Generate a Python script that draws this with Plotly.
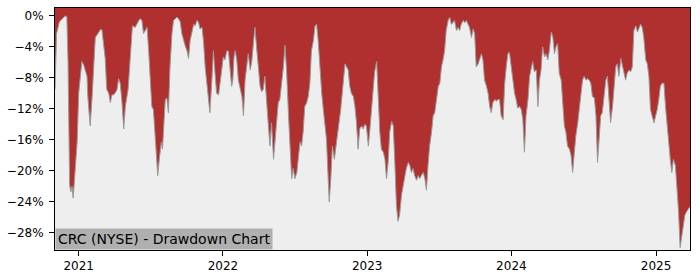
import plotly.graph_objects as go

dates = [
    "2020-11-02", "2020-11-06", "2020-11-13", "2020-11-18", "2020-11-24", "2020-11-30", "2020-12-02",
    "2020-12-05", "2020-12-07", "2020-12-09", "2020-12-12", "2020-12-15", "2020-12-18", "2020-12-20",
    "2020-12-23", "2020-12-28", "2021-01-01", "2021-01-05", "2021-01-09", "2021-01-14", "2021-01-18",
    "2021-01-22", "2021-01-24", "2021-01-28", "2021-01-30", "2021-02-04", "2021-02-08", "2021-02-12",
    "2021-02-16", "2021-02-21", "2021-02-26", "2021-03-01", "2021-03-05", "2021-03-09", "2021-03-13",
    "2021-03-18", "2021-03-22", "2021-03-26", "2021-03-30", "2021-04-03", "2021-04-08", "2021-04-12",
    "2021-04-16", "2021-04-20", "2021-04-25", "2021-04-29", "2021-05-06", "2021-05-09", "2021-05-14",
    "2021-05-17", "2021-05-24", "2021-05-28", "2021-06-02", "2021-06-06", "2021-06-10", "2021-06-14",
    "2021-06-18", "2021-06-23", "2021-06-27", "2021-07-01", "2021-07-05", "2021-07-09", "2021-07-14",
    "2021-07-18", "2021-07-20", "2021-07-24", "2021-07-29", "2021-08-01", "2021-08-05", "2021-08-08",
    "2021-08-12", "2021-08-16", "2021-08-20", "2021-08-25", "2021-08-29", "2021-09-06", "2021-09-11",
    "2021-09-15", "2021-09-19", "2021-09-23", "2021-09-27", "2021-10-02", "2021-10-06", "2021-10-10",
    "2021-10-14", "2021-10-19", "2021-10-23", "2021-10-27", "2021-10-31", "2021-11-04", "2021-11-09",
    "2021-11-13", "2021-11-17", "2021-11-21", "2021-11-25", "2021-11-29", "2021-12-04", "2021-12-08",
    "2021-12-12", "2021-12-16", "2021-12-21", "2021-12-25", "2021-12-29", "2022-01-02", "2022-01-06",
    "2022-01-11", "2022-01-15", "2022-01-19", "2022-01-23", "2022-01-26", "2022-01-29", "2022-02-01",
    "2022-02-05", "2022-02-09", "2022-02-13", "2022-02-18", "2022-02-22", "2022-02-26", "2022-03-02",
    "2022-03-06", "2022-03-11", "2022-03-15", "2022-03-19", "2022-03-23", "2022-03-27", "2022-04-01",
    "2022-04-05", "2022-04-09", "2022-04-13", "2022-04-17", "2022-04-22", "2022-04-26", "2022-04-30",
    "2022-05-04", "2022-05-09", "2022-05-13", "2022-05-17", "2022-05-21", "2022-05-25", "2022-05-30",
    "2022-06-03", "2022-06-07", "2022-06-11", "2022-06-16", "2022-06-20", "2022-06-24", "2022-06-28",
    "2022-07-02", "2022-07-07", "2022-07-11", "2022-07-15", "2022-07-19", "2022-07-23", "2022-07-27",
    "2022-08-01", "2022-08-05", "2022-08-09", "2022-08-13", "2022-08-18", "2022-08-22", "2022-08-26",
    "2022-08-30", "2022-09-03", "2022-09-08", "2022-09-12", "2022-09-16", "2022-09-20", "2022-09-25",
    "2022-09-27", "2022-10-01", "2022-10-05", "2022-10-10", "2022-10-14", "2022-10-18", "2022-10-22",
    "2022-10-26", "2022-11-02", "2022-11-06", "2022-11-10", "2022-11-14", "2022-11-18", "2022-11-22",
    "2022-11-27", "2022-12-01", "2022-12-05", "2022-12-09", "2022-12-13", "2022-12-18", "2022-12-22",
    "2022-12-26", "2022-12-30", "2023-01-04", "2023-01-08", "2023-01-12", "2023-01-16", "2023-01-20",
    "2023-01-25", "2023-01-29", "2023-02-02", "2023-02-06", "2023-02-11", "2023-02-15", "2023-02-19",
    "2023-02-23", "2023-02-27", "2023-03-04", "2023-03-08", "2023-03-12", "2023-03-16", "2023-03-20",
    "2023-03-24", "2023-03-29", "2023-04-02", "2023-04-06", "2023-04-10", "2023-04-15", "2023-04-19",
    "2023-04-23", "2023-04-27", "2023-05-01", "2023-05-06", "2023-05-10", "2023-05-14", "2023-05-18",
    "2023-05-23", "2023-05-27", "2023-05-31", "2023-06-04", "2023-06-08", "2023-06-13", "2023-06-17",
    "2023-06-21", "2023-06-25", "2023-06-30", "2023-07-04", "2023-07-08", "2023-07-12", "2023-07-16",
    "2023-07-20", "2023-07-25", "2023-07-29", "2023-08-02", "2023-08-06", "2023-08-10", "2023-08-15",
    "2023-08-19", "2023-08-23", "2023-08-27", "2023-09-01", "2023-09-05", "2023-09-09", "2023-09-13",
    "2023-09-17", "2023-09-22", "2023-09-26", "2023-09-30", "2023-10-04", "2023-10-09", "2023-10-13",
    "2023-10-17", "2023-10-21", "2023-10-25", "2023-10-30", "2023-11-03", "2023-11-07", "2023-11-11",
    "2023-11-15", "2023-11-20", "2023-11-24", "2023-11-28", "2023-12-02", "2023-12-06", "2023-12-11",
    "2023-12-15", "2023-12-19", "2023-12-23", "2023-12-27", "2024-01-01", "2024-01-05", "2024-01-09",
    "2024-01-13", "2024-01-17", "2024-01-22", "2024-01-26", "2024-01-30", "2024-02-03", "2024-02-07",
    "2024-02-12", "2024-02-16", "2024-02-20", "2024-02-24", "2024-02-28", "2024-03-04", "2024-03-08",
    "2024-03-12", "2024-03-16", "2024-03-20", "2024-03-25", "2024-03-29", "2024-04-02", "2024-04-06",
    "2024-04-11", "2024-04-15", "2024-04-19", "2024-04-23", "2024-04-27", "2024-05-01", "2024-05-06",
    "2024-05-10", "2024-05-14", "2024-05-18", "2024-05-22", "2024-05-27", "2024-05-31", "2024-06-04",
    "2024-06-08", "2024-06-12", "2024-06-17", "2024-06-21", "2024-06-25", "2024-06-29", "2024-07-03",
    "2024-07-08", "2024-07-12", "2024-07-16", "2024-07-20", "2024-07-24", "2024-07-29", "2024-08-02",
    "2024-08-06", "2024-08-10", "2024-08-14", "2024-08-18", "2024-08-23", "2024-08-27", "2024-08-31",
    "2024-09-04", "2024-09-08", "2024-09-13", "2024-09-17", "2024-09-21", "2024-09-25", "2024-09-29",
    "2024-10-04", "2024-10-08", "2024-10-12", "2024-10-16", "2024-10-20", "2024-10-25", "2024-10-29",
    "2024-11-02", "2024-11-06", "2024-11-11", "2024-11-15", "2024-11-19", "2024-11-23", "2024-11-27",
    "2024-12-01", "2024-12-06", "2024-12-10", "2024-12-14", "2024-12-18", "2024-12-22", "2024-12-27",
    "2024-12-31", "2025-01-04", "2025-01-08", "2025-01-12", "2025-01-16", "2025-01-21", "2025-01-25",
    "2025-01-29", "2025-02-02", "2025-02-06", "2025-02-10", "2025-02-14", "2025-02-19", "2025-02-23",
    "2025-02-27", "2025-03-03", "2025-03-07", "2025-03-11", "2025-03-15", "2025-03-20", "2025-03-24",
    "2025-03-28",
]

drawdown_pct = [
    -9.5, -2.3, -0.8, -0.5, -0.2, 0.0, -0.2,
    -6.0, -15.0, -21.8, -22.7, -22.0, -23.5, -22.0,
    -21.0, -16.3, -10.0, -7.8, -5.9, -6.4, -7.2,
    -7.8, -10.4, -13.0, -14.2, -10.4, -6.6, -2.8,
    -2.5, -2.1, -1.7, -1.9, -3.6, -5.5, -9.5,
    -10.0, -11.2, -10.2, -10.2, -10.0, -9.5, -8.1,
    -8.7, -10.8, -14.6, -11.7, -9.5, -7.0, -3.2,
    -1.3, -1.5, -1.0, -0.6, -0.4, -0.6, -2.3,
    -1.9, -1.5, -4.5, -8.7, -11.7, -12.1, -15.9,
    -19.7, -20.6, -18.5, -16.3, -17.2, -14.2, -10.8,
    -10.6, -12.5, -6.6, -2.3, -0.6, -0.2, -0.4,
    -0.8, -2.3, -3.2, -3.8, -4.5, -5.5, -3.2,
    -2.1, -1.1, -1.3, -0.6, -0.8, -1.7, -1.5,
    -3.4, -6.6, -8.3, -10.4, -12.5, -8.3, -4.5,
    -7.4, -10.0, -10.2, -8.3, -6.6, -5.3, -5.7,
    -4.5, -4.6, -6.6, -9.1, -8.3, -5.3, -4.5,
    -5.7, -8.3, -9.1, -10.4, -12.9, -8.3, -6.6,
    -4.9, -7.0, -5.9, -3.6, -1.5, -4.0, -6.6,
    -9.1, -9.8, -9.5, -7.8, -10.8, -14.2, -16.8,
    -13.8, -18.5, -15.9, -13.4, -11.2, -10.8, -8.7,
    -6.6, -3.8, -7.0, -12.9, -16.8, -21.0, -19.7,
    -21.0, -20.2, -18.5, -16.3, -16.8, -15.0, -11.7,
    -11.2, -10.4, -8.7, -4.5, -3.2, -1.3, -1.1,
    -3.2, -6.6, -10.0, -12.1, -14.2, -15.9, -21.8,
    -24.0, -21.0, -16.8, -18.5, -16.8, -15.0, -13.4,
    -12.1, -8.3, -6.2, -6.6, -7.0, -9.1, -10.0,
    -10.4, -11.7, -13.8, -17.2, -14.6, -14.2, -14.6,
    -14.0, -14.2, -16.8, -14.6, -12.1, -9.1, -7.2,
    -5.9, -10.8, -15.0, -17.2, -17.6, -18.5, -21.0,
    -18.9, -15.0, -13.6, -14.2, -18.9, -24.4, -26.5,
    -25.7, -23.1, -21.8, -21.0, -19.7, -18.9, -19.3,
    -20.2, -19.7, -20.6, -21.2, -20.6, -21.0, -20.6,
    -20.2, -21.0, -22.5, -19.3, -16.8, -15.0, -12.9,
    -12.5, -10.8, -9.1, -8.7, -6.6, -5.7, -4.5,
    -1.9, -0.6, -0.2, -1.1, -0.9, -0.6, -1.9,
    -1.5, -1.9, -1.1, -0.6, -0.9, -0.6, -1.1,
    -1.5, -2.8, -1.7, -2.3, -6.6, -6.2, -5.5,
    -4.9, -5.7, -8.3, -9.1, -10.0, -11.7, -12.5,
    -11.2, -10.8, -11.0, -10.8, -10.8, -12.9, -13.4,
    -8.7, -6.6, -4.9, -4.7, -6.6, -8.7, -10.0,
    -10.8, -11.9, -11.7, -12.1, -13.4, -17.6, -12.9,
    -10.8, -7.8, -6.6, -5.9, -7.2, -7.0, -11.7,
    -8.3, -7.0, -4.0, -5.3, -4.9, -5.7, -4.5,
    -2.1, -2.8, -4.9, -4.0, -3.6, -7.4, -8.3,
    -10.8, -14.2, -15.0, -16.8, -17.2, -18.0, -20.2,
    -17.6, -15.5, -13.8, -11.7, -10.4, -8.3, -7.8,
    -8.3, -8.1, -8.3, -8.7, -10.4, -10.6, -12.9,
    -18.9, -15.9, -12.9, -12.5, -10.0, -8.3, -7.8,
    -11.2, -13.8, -11.7, -8.7, -6.6, -6.2, -7.8,
    -5.5, -6.6, -7.2, -8.3, -7.4, -7.0, -7.2,
    -6.6, -1.9, -1.3, -2.1, -1.5, -1.1, -1.5,
    -2.8, -5.7, -6.2, -7.8, -12.1, -12.9, -13.8,
    -12.9, -12.1, -10.8, -9.1, -8.7, -8.7, -11.7,
    -14.2, -16.3, -18.5, -20.2, -18.5, -19.3, -21.8,
    -25.2, -29.9, -28.6, -26.9, -25.7, -25.2, -24.8,
    -24.6,
]

y_range = [-30.2, 1.0]
y_tick_vals = [0, -4, -8, -12, -16, -20, -24, -28]
y_tick_text = ["0%", "\u22124%", "\u22128%", "\u221212%", "\u221216%", "\u221220%", "\u221224%", "\u221228%"]
label_text = "CRC (NYSE) - Drawdown Chart"

RED = "#b03030"
GREY_BG = "#eeeeee"

fig = go.Figure()
# baseline at the bottom of the axis range, so the area under the curve is grey
fig.add_trace(go.Scatter(
    x=[dates[0], dates[-1]], y=[y_range[0], y_range[0]], mode="lines",
    line=dict(width=0, color=GREY_BG), hoverinfo="skip", showlegend=False,
))
fig.add_trace(go.Scatter(
    x=dates, y=drawdown_pct, mode="lines",
    line=dict(color="#9a9a9a", width=1),
    fill="tonexty", fillcolor=GREY_BG,
    hoverinfo="skip", showlegend=False,
))

font = dict(family="DejaVu Sans", size=12, color="#000000")
fig.update_layout(
    width=700, height=280,
    margin=dict(l=53, r=10, t=7, b=28),
    paper_bgcolor="#ffffff", plot_bgcolor=RED,
    font=font, showlegend=False,
)
fig.update_xaxes(
    range=[dates[0], dates[-1]], type="date",
    tick0="2021-01-01", dtick="M12", tickformat="%Y",
    showgrid=False, zeroline=False,
    showline=True, linecolor="#000000", linewidth=1, mirror=True,
    ticks="outside", ticklen=5, tickcolor="#000000", tickfont=font,
)
fig.update_yaxes(
    range=y_range,
    tickvals=y_tick_vals, ticktext=y_tick_text,
    showgrid=False, zeroline=False,
    showline=True, linecolor="#000000", linewidth=1, mirror=True,
    ticks="outside", ticklen=5, tickcolor="#000000", tickfont=font,
    ticklabelstandoff=3,
)
fig.add_annotation(
    text=label_text, xref="paper", yref="paper", x=0, y=0,
    xanchor="left", yanchor="bottom", showarrow=False,
    bgcolor="#b0b0b0", borderpad=2,
    font=dict(family="DejaVu Sans", size=14, color="#000000"),
)

fig.write_html("out.html")
